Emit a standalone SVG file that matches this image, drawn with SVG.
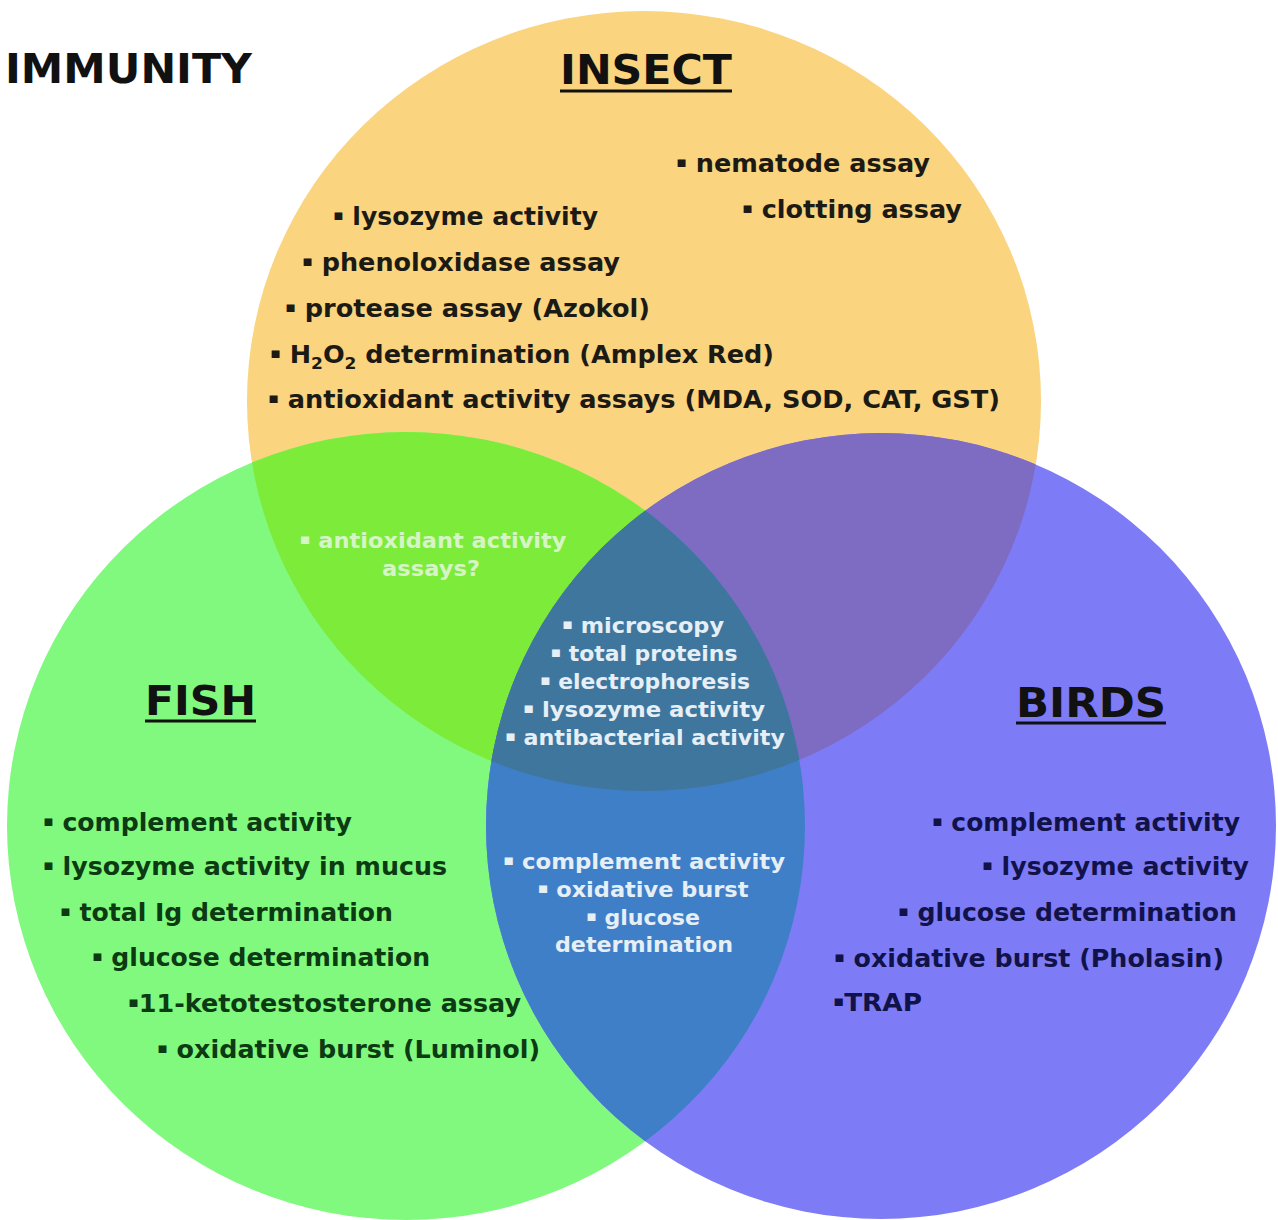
<svg xmlns="http://www.w3.org/2000/svg" width="1278" height="1220" viewBox="0 0 1278 1220">
<style>
  text { font-family: "DejaVu Sans", Verdana, sans-serif; font-weight: bold; }
  .title { font-size: 40px; fill: #111; }
  .ins { font-size: 24px; fill: #1c1a14; }
  .fish { font-size: 24px; fill: #0c3a12; }
  .bird { font-size: 24px; fill: #12124a; }
  .ctr { font-size: 21px; fill: #e6eef6; text-anchor: middle; }
  .lg { font-size: 21px; fill: #d6f5c6; text-anchor: middle; }
  .b { font-size: 15px; }
  .ul { stroke: #111; stroke-width: 3; }
</style>
<defs>
  <ellipse id="eI" cx="644" cy="401" rx="397" ry="390"/>
  <ellipse id="eF" cx="406" cy="826" rx="399" ry="394"/>
  <ellipse id="eB" cx="881" cy="826" rx="395" ry="393"/>
  <clipPath id="cI"><use href="#eI"/></clipPath>
  <clipPath id="cF"><use href="#eF"/></clipPath>
  <clipPath id="cB"><use href="#eB"/></clipPath>
</defs>
<rect width="1278" height="1220" fill="#ffffff"/>

<g id="insect-circle"><use href="#eI" fill="#FAD47E"/></g>
<g id="fish-circle"><use href="#eF" fill="#80F97E"/></g>
<g id="birds-circle"><use href="#eB" fill="#7D7CF6"/></g>
<g id="insect-fish" clip-path="url(#cI)"><use href="#eF" fill="#7DEB3A"/></g>
<g id="insect-birds" clip-path="url(#cI)"><use href="#eB" fill="#7E6BC2"/></g>
<g id="fish-birds" clip-path="url(#cF)"><use href="#eB" fill="#3F7FC7"/></g>
<g id="all-three" clip-path="url(#cI)"><g clip-path="url(#cF)"><use href="#eB" fill="#3F769D"/></g></g>

<g id="connectors"/>

<g id="immunity-title">
  <text class="title" x="5" y="83" textLength="247" lengthAdjust="spacingAndGlyphs">IMMUNITY</text>
</g>

<g id="insect-labels">
  <text class="title" x="560" y="84" textLength="172" lengthAdjust="spacingAndGlyphs">INSECT</text>
  <line class="ul" x1="560" y1="91" x2="732" y2="91"/>
  <text class="ins" x="676" y="172" textLength="254" lengthAdjust="spacingAndGlyphs"><tspan class="b" dy="-5">▪</tspan><tspan dy="5"> nematode assay</tspan></text>
  <text class="ins" x="742" y="218" textLength="220" lengthAdjust="spacingAndGlyphs"><tspan class="b" dy="-5">▪</tspan><tspan dy="5"> clotting  assay</tspan></text>
  <text class="ins" x="333" y="225" textLength="265" lengthAdjust="spacingAndGlyphs"><tspan class="b" dy="-5">▪</tspan><tspan dy="5"> lysozyme activity</tspan></text>
  <text class="ins" x="302" y="271" textLength="318" lengthAdjust="spacingAndGlyphs"><tspan class="b" dy="-5">▪</tspan><tspan dy="5"> phenoloxidase  assay</tspan></text>
  <text class="ins" x="285" y="317" textLength="365" lengthAdjust="spacingAndGlyphs"><tspan class="b" dy="-5">▪</tspan><tspan dy="5"> protease assay (Azokol)</tspan></text>
  <text class="ins" x="270" y="363" textLength="504" lengthAdjust="spacingAndGlyphs"><tspan class="b" dy="-5">▪</tspan><tspan dy="5"> H</tspan><tspan font-size="16" dy="6">2</tspan><tspan dy="-6">O</tspan><tspan font-size="16" dy="6">2</tspan><tspan dy="-6"> determination (Amplex Red)</tspan></text>
  <text class="ins" x="268" y="408" textLength="732" lengthAdjust="spacingAndGlyphs"><tspan class="b" dy="-5">▪</tspan><tspan dy="5"> antioxidant activity assays (MDA, SOD, CAT, GST)</tspan></text>
</g>

<g id="insect-fish-labels">
  <text class="lg" x="433" y="548" textLength="267" lengthAdjust="spacingAndGlyphs"><tspan class="b" dy="-4">▪</tspan><tspan dy="4"> antioxidant activity</tspan></text>
  <text class="lg" x="431" y="576" textLength="98" lengthAdjust="spacingAndGlyphs">assays?</text>
</g>

<g id="center-labels">
  <text class="ctr" x="643" y="633" textLength="162" lengthAdjust="spacingAndGlyphs"><tspan class="b" dy="-4">▪</tspan><tspan dy="4"> microscopy</tspan></text>
  <text class="ctr" x="644" y="661" textLength="187" lengthAdjust="spacingAndGlyphs"><tspan class="b" dy="-4">▪</tspan><tspan dy="4"> total proteins</tspan></text>
  <text class="ctr" x="645" y="689" textLength="210" lengthAdjust="spacingAndGlyphs"><tspan class="b" dy="-4">▪</tspan><tspan dy="4"> electrophoresis</tspan></text>
  <text class="ctr" x="644" y="717" textLength="242" lengthAdjust="spacingAndGlyphs"><tspan class="b" dy="-4">▪</tspan><tspan dy="4"> lysozyme activity</tspan></text>
  <text class="ctr" x="645" y="745" textLength="280" lengthAdjust="spacingAndGlyphs"><tspan class="b" dy="-4">▪</tspan><tspan dy="4"> antibacterial  activity</tspan></text>
</g>

<g id="fish-labels">
  <text class="title" x="145" y="715" textLength="111" lengthAdjust="spacingAndGlyphs">FISH</text>
  <line class="ul" x1="145" y1="721" x2="256" y2="721"/>
  <text class="fish" x="43" y="831" textLength="309" lengthAdjust="spacingAndGlyphs"><tspan class="b" dy="-5">▪</tspan><tspan dy="5"> complement activity</tspan></text>
  <text class="fish" x="43" y="875" textLength="404" lengthAdjust="spacingAndGlyphs"><tspan class="b" dy="-5">▪</tspan><tspan dy="5"> lysozyme activity in  mucus</tspan></text>
  <text class="fish" x="60" y="921" textLength="333" lengthAdjust="spacingAndGlyphs"><tspan class="b" dy="-5">▪</tspan><tspan dy="5"> total Ig determination</tspan></text>
  <text class="fish" x="92" y="966" textLength="338" lengthAdjust="spacingAndGlyphs"><tspan class="b" dy="-5">▪</tspan><tspan dy="5"> glucose  determination</tspan></text>
  <text class="fish" x="128" y="1012" textLength="393" lengthAdjust="spacingAndGlyphs"><tspan class="b" dy="-5">▪</tspan><tspan dy="5">11-ketotestosterone assay</tspan></text>
  <text class="fish" x="157" y="1058" textLength="383" lengthAdjust="spacingAndGlyphs"><tspan class="b" dy="-5">▪</tspan><tspan dy="5"> oxidative  burst (Luminol)</tspan></text>
</g>

<g id="fish-birds-labels">
  <text class="ctr" x="644" y="869" textLength="282" lengthAdjust="spacingAndGlyphs"><tspan class="b" dy="-4">▪</tspan><tspan dy="4"> complement activity</tspan></text>
  <text class="ctr" x="643" y="897" textLength="211" lengthAdjust="spacingAndGlyphs"><tspan class="b" dy="-4">▪</tspan><tspan dy="4"> oxidative  burst</tspan></text>
  <text class="ctr" x="643" y="925" textLength="114" lengthAdjust="spacingAndGlyphs"><tspan class="b" dy="-4">▪</tspan><tspan dy="4"> glucose</tspan></text>
  <text class="ctr" x="644" y="952" textLength="178" lengthAdjust="spacingAndGlyphs">determination</text>
</g>

<g id="birds-labels">
  <text class="title" x="1016" y="717" textLength="150" lengthAdjust="spacingAndGlyphs">BIRDS</text>
  <line class="ul" x1="1016" y1="723" x2="1166" y2="723"/>
  <text class="bird" x="932" y="831" textLength="308" lengthAdjust="spacingAndGlyphs"><tspan class="b" dy="-5">▪</tspan><tspan dy="5"> complement activity</tspan></text>
  <text class="bird" x="982" y="875" textLength="267" lengthAdjust="spacingAndGlyphs"><tspan class="b" dy="-5">▪</tspan><tspan dy="5"> lysozyme activity</tspan></text>
  <text class="bird" x="898" y="921" textLength="339" lengthAdjust="spacingAndGlyphs"><tspan class="b" dy="-5">▪</tspan><tspan dy="5"> glucose  determination</tspan></text>
  <text class="bird" x="834" y="967" textLength="390" lengthAdjust="spacingAndGlyphs"><tspan class="b" dy="-5">▪</tspan><tspan dy="5"> oxidative  burst (Pholasin)</tspan></text>
  <text class="bird" x="833" y="1011" textLength="89" lengthAdjust="spacingAndGlyphs"><tspan class="b" dy="-5">▪</tspan><tspan dy="5">TRAP</tspan></text>
</g>
</svg>
